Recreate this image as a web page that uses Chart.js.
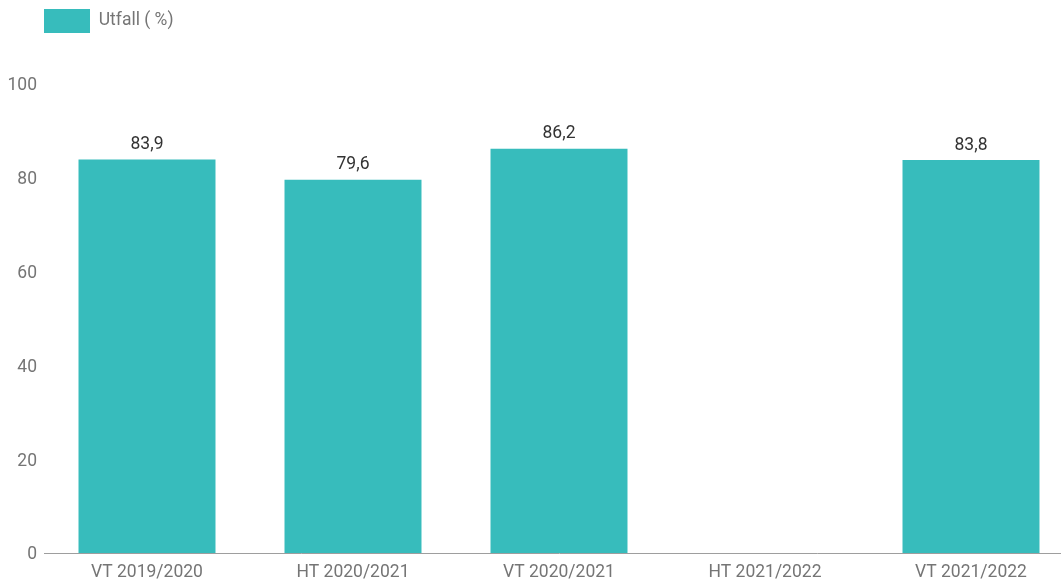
<!DOCTYPE html>
<html>
<head>
<meta charset="utf-8">
<script src="https://cdn.jsdelivr.net/npm/chart.js@4/dist/chart.umd.min.js"></script>
<style>
  html, body { margin: 0; padding: 0; overflow: hidden; background: #fff; }
  #wrap { width: 1074px; height: 586px; }
</style>
</head>
<body>
<div id="wrap"><canvas id="chart"></canvas></div>
<script>
const categories = ['VT 2019/2020', 'HT 2020/2021', 'VT 2020/2021', 'HT 2021/2022', 'VT 2021/2022'];
const utfall = [83.9, 79.6, 86.2, null, 83.8];
const seriesLabel = 'Utfall ( %)';

const teal = '#37bcbc';
const grey = '#757575';
const fontSize = 17.5;

// value labels above bars, Norwegian decimal comma
const valueLabels = {
  id: 'valueLabels',
  afterDatasetsDraw(chart) {
    const ctx = chart.ctx;
    const meta = chart.getDatasetMeta(0);
    ctx.save();
    ctx.font = fontSize + 'px Roboto';
    ctx.fillStyle = '#333';
    ctx.textAlign = 'center';
    ctx.textBaseline = 'bottom';
    meta.data.forEach((bar, i) => {
      const v = utfall[i];
      if (v == null) return;
      ctx.fillText(v.toFixed(1).replace('.', ','), bar.x, bar.y - 6);
    });
    ctx.restore();
  }
};

// push the legend in line with the plot and give it room above the plot
const legendPlace = {
  id: 'legendPlace',
  beforeInit(chart) {
    const legend = chart.legend;
    const fit = legend.fit;
    legend.fit = function () {
      fit.call(this);
      this.height = 84;
    };
  },
  afterUpdate(chart) {
    chart.legend.left += 34;
    chart.legend.top -= 1;
  }
};

new Chart(document.getElementById('chart').getContext('2d'), {
  type: 'bar',
  data: {
    labels: categories,
    datasets: [{
      label: seriesLabel,
      data: utfall,
      backgroundColor: teal,
      borderWidth: 0,
      barPercentage: 0.665,
      categoryPercentage: 1
    }]
  },
  options: {
    responsive: true,
    maintainAspectRatio: false,
    animation: false,
    layout: { padding: 0 },
    plugins: {
      tooltip: { enabled: false },
      legend: {
        align: 'start',
        labels: {
          boxWidth: 46,
          boxHeight: 24,
          padding: 10,
          color: grey,
          font: { family: 'Roboto', size: fontSize }
        }
      }
    },
    scales: {
      x: {
        afterFit(scale) { scale.height = 33; },
        grid: { display: false, drawTicks: false },
        border: { display: true, color: '#9e9e9e', width: 1 },
        ticks: { color: grey, padding: 9, font: { family: 'Roboto', size: fontSize } }
      },
      y: {
        min: 0,
        max: 100,
        afterFit(scale) { scale.width = 44; },
        grid: { display: false, drawTicks: false },
        border: { display: false },
        ticks: { stepSize: 20, color: grey, padding: 7, labelOffset: 2, font: { family: 'Roboto', size: fontSize } }
      }
    }
  },
  plugins: [legendPlace, valueLabels]
});
</script>
</body>
</html>
